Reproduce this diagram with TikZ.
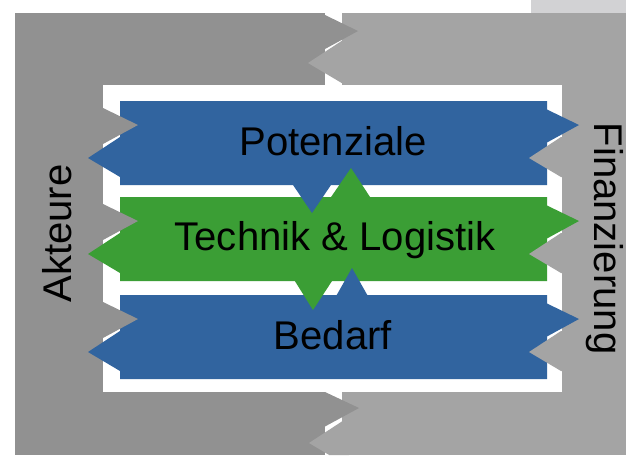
\documentclass[tikz,border=0pt]{standalone}
\usepackage{fontspec}
\setmainfont{Liberation Sans}
\definecolor{akteur}{HTML}{919191}
\definecolor{finanz}{HTML}{A4A4A4}
\definecolor{corner}{HTML}{D2D2D4}
\definecolor{bandblue}{HTML}{31649F}
\definecolor{bandgreen}{HTML}{3B9E35}

\begin{document}
\begin{tikzpicture}[x=0.025cm,y=-0.025cm,
  lbl/.style={font=\fontsize{28.5}{34}\selectfont,text=black,inner sep=0pt,anchor=base}]
\fill[white] (0,0) rectangle (626,455);
\fill[corner] (531,0) rectangle (626,13);
\fill[akteur] (15,13) rectangle (325,455);
\fill[finanz] (342,13) rectangle (626,455);
\fill[white] (103,85) rectangle (562,392);
\fill[akteur] (318,15) -- ++(7,0) -- ++(33,16) -- ++(-33,18) -- ++(-7,0) -- cycle;
\fill[finanz] (349,40.7) -- ++(-7,0) -- ++(-34,22.3) -- ++(34,20.2) -- ++(7,0) -- cycle;
\fill[akteur] (318,392) -- ++(7,0) -- ++(34,16) -- ++(-34,18.5) -- ++(-7,0) -- cycle;
\fill[finanz] (349,421.4) -- ++(-7,0) -- ++(-33,21.6) -- ++(20.2,12) -- ++(19.8,0) -- cycle;

\fill[bandblue] (120,101) -- ++(427,0) -- ++(0,8.5) -- ++(32,15.5) -- ++(-32,17.5) -- ++(0,42.5) -- ++(-427,0) -- ++(0,-8) -- ++(-32,-19) -- ++(32,-21) -- cycle;
\fill[bandgreen] (120,197) -- ++(427,0) -- ++(0,8.5) -- ++(32,15.5) -- ++(-32,17.5) -- ++(0,42.5) -- ++(-427,0) -- ++(0,-8) -- ++(-32,-19) -- ++(32,-21) -- cycle;
\fill[bandblue] (120,295) -- ++(427,0) -- ++(0,8.5) -- ++(32,15.5) -- ++(-32,17.5) -- ++(0,42.5) -- ++(-427,0) -- ++(0,-8) -- ++(-32,-19) -- ++(32,-21) -- cycle;

\fill[akteur] (96,108) -- ++(7,0) -- ++(35,17) -- ++(-35,19) -- ++(-7,0) -- cycle;
\fill[akteur] (96,204) -- ++(7,0) -- ++(35,17) -- ++(-35,19) -- ++(-7,0) -- cycle;
\fill[akteur] (96,302) -- ++(7,0) -- ++(35,17) -- ++(-35,19) -- ++(-7,0) -- cycle;
\fill[finanz] (568,137) -- ++(-7,0) -- ++(-32,21) -- ++(32,19) -- ++(7,0) -- cycle;
\fill[finanz] (568,233) -- ++(-7,0) -- ++(-32,21) -- ++(32,19) -- ++(7,0) -- cycle;
\fill[finanz] (568,331) -- ++(-7,0) -- ++(-32,21) -- ++(32,19) -- ++(7,0) -- cycle;

\fill[bandblue] (291,182) -- ++(21,31) -- ++(21,-31) -- cycle;
\fill[bandgreen] (329,200) -- ++(22,-32) -- ++(21,32) -- cycle;
\fill[bandgreen] (293,278) -- ++(20,32) -- ++(21,-32) -- cycle;
\fill[bandblue] (335,298) -- ++(17,-30) -- ++(17,30) -- cycle;

\node[lbl] (pot) at (333,155) {Potenziale};
\node[lbl] (tech) at (335,250) {Technik \& Logistik};
\node[lbl] (bed) at (333,349) {Bedarf};
\node[lbl,rotate=90] (akt) at (71,233.5) {Akteure};
\node[lbl,rotate=-90] (fin) at (594,238.5) {Finanzierung};
\end{tikzpicture}
\end{document}
